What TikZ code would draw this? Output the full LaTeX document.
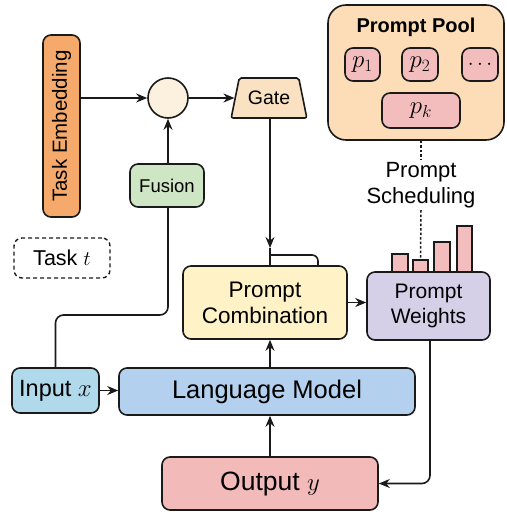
\documentclass[tikz,border=0pt]{standalone}
\usepackage{fontspec}
\setmainfont{Liberation Sans}
\usetikzlibrary{shapes.geometric,arrows.meta,calc}

\definecolor{cEmb}{HTML}{F5AA6B}
\definecolor{cMix}{HTML}{FBF1DE}
\definecolor{cGate}{HTML}{FAE1C1}
\definecolor{cFus}{HTML}{CFE6C4}
\definecolor{cPool}{HTML}{FDDDB8}
\definecolor{cPink}{HTML}{F3BDBD}
\definecolor{cComb}{HTML}{FEF2C6}
\definecolor{cWts}{HTML}{D6CFE8}
\definecolor{cIn}{HTML}{B0DAEC}
\definecolor{cLM}{HTML}{B3D1EF}
\definecolor{cOut}{HTML}{F3BABA}
\definecolor{cLine}{HTML}{1A1A1A}

\tikzset{
  box/.style={draw=cLine, line width=1.6pt, rounded corners=8pt, inner sep=2pt, align=center},
  link/.style={draw=cLine, line width=1.6pt},
  arr/.style={link, -{Stealth[length=11pt,width=9pt]}},
  sched/.style={draw=cLine, line width=1.5pt, dash pattern=on 2.5pt off 2pt},
  fs/.style={font=\fontsize{#1}{#1}\selectfont}
}

\begin{document}
\begin{tikzpicture}[x=1pt, y=-1pt]
\useasboundingbox (0,0) rectangle (506,514);

% task embedding branch
\node[box, fill=cEmb, minimum width=182pt, minimum height=37pt, rotate=90, fs=20.5] (te) at (61.5,126) {Task Embedding};
\node[circle, draw=cLine, line width=1.6pt, fill=cMix, minimum size=40pt, inner sep=0pt] (mix) at (168,98) {};
\node[trapezium, trapezium stretches=true, trapezium left angle=72, trapezium right angle=72,
      draw=cLine, line width=1.6pt, fill=cGate, rounded corners=2pt,
      minimum width=76pt, minimum height=40pt, fs=19.5] (gate) at (269,98) {Gate};
\node[box, fill=cFus, minimum width=74pt, minimum height=43pt, fs=18.5] (fus) at (167,185.5) {Fusion};
\node[box, dashed, dash pattern=on 4pt off 3pt, line width=1.4pt, minimum width=96pt, minimum height=40pt, fs=21.5] (task) at (62,258) {Task $t$};

% prompt pool
\node[box, fill=cPool, rounded corners=18pt, minimum width=176pt, minimum height=135pt] (pool) at (416,72.5) {};
\node[font=\fontsize{20}{24}\selectfont\bfseries] (pooltitle) at (416,27) {Prompt Pool};
\node[box, fill=cPink, minimum width=35pt, minimum height=33pt, fs=25] (p1) at (362.5,64.5) {$p_1$};
\node[box, fill=cPink, minimum width=36pt, minimum height=33pt, fs=25] (p2) at (420,64.5) {$p_2$};
\node[box, fill=cPink, minimum width=36pt, minimum height=33pt, fs=20] (pd) at (480,64.5) {$\cdots$};
\node[box, fill=cPink, minimum width=78pt, minimum height=35pt, fs=25] (pk) at (421,110.5) {$p_k$};

\node[align=center, font=\fontsize{22}{26}\selectfont, inner sep=2pt] (sch) at (421,185) {Prompt\\Scheduling};

% main blocks
\node[box, fill=cComb, minimum width=164pt, minimum height=73pt, font=\fontsize{22.5}{26}\selectfont] (comb) at (265,302.5) {Prompt\\Combination};
\node[box, fill=cWts, minimum width=123pt, minimum height=68pt, font=\fontsize{21}{25}\selectfont] (wts) at (428.5,306) {Prompt\\Weights};
\node[box, fill=cIn, minimum width=87pt, minimum height=45pt, fs=23.5] (in) at (55.5,390.5) {Input $x$};
\node[box, fill=cLM, minimum width=296pt, minimum height=47pt, fs=25.5] (lm) at (267,391.5) {Language Model};
\node[box, fill=cOut, minimum width=216pt, minimum height=53pt, fs=26.5] (out) at (270,483.5) {Output $y$};

% weight bars
\foreach \i/\xa/\xb/\yt in {1/392/408/254, 2/413/428/260, 3/434/450/242, 4/457/472/226}
  \draw[fill=cPink, draw=cLine, line width=1.6pt] (\xa,272) rectangle (\xb,\yt);
\coordinate (bar2top) at (420.5,260);

% connectors
\draw[arr] (te.south |- mix.west) -- (mix.west);
\draw[arr] (mix.east) -- (gate.west |- mix.east);
\draw[arr] (fus.north -| mix.south) -- (mix.south);
\coordinate (bendA) at (168,315);
\draw[link, rounded corners=8pt] (in.north) |- (bendA) -- (fus.south -| bendA);

\coordinate (gdrop) at (270,248);
\draw[arr] (gate.south -| gdrop) -- (gdrop);
\draw[link] (gdrop) -- (comb.north -| gdrop);
\coordinate (bx) at (318,255);
\draw[link, rounded corners=6pt] (gdrop |- bx) -- (bx) -- (comb.north -| bx);

\draw[arr] (comb.east) -- (comb.east -| wts.west);
\draw[arr] (lm.north -| gdrop) -- (comb.south -| gdrop);
\draw[arr] (out.north -| gdrop) -- (lm.south -| gdrop);
\draw[arr] (in.east) -- (lm.west |- in.east);
\coordinate (wdrop) at (430,0);
\draw[arr, rounded corners=8pt] (wts.south -| wdrop) |- (out.east);

\draw[sched] (pool.south -| sch) -- (sch.north);
\draw[sched] (sch.south) -- (bar2top);
\end{tikzpicture}
\end{document}
